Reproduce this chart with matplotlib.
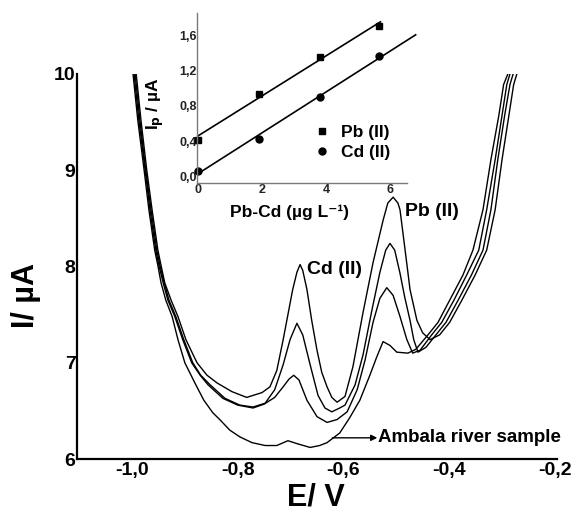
import matplotlib
matplotlib.use("Agg")
import matplotlib.pyplot as plt
import numpy as np
from matplotlib.lines import Line2D

plt.rcParams['font.family'] = ['Liberation Sans', 'DejaVu Sans']
plt.rcParams['font.weight'] = 'bold'
plt.rcParams['mathtext.default'] = 'regular'

# ---------------- main voltammograms (E / V, I / uA) ----------------
A_E = [-0.992, -0.983, -0.972, -0.962, -0.951, -0.945, -0.938, -0.926, -0.913, -0.898,
       -0.877, -0.858, -0.839, -0.811, -0.783, -0.754,
       -0.739, -0.726, -0.714, -0.705, -0.696, -0.688, -0.682, -0.677, -0.669, -0.660,
       -0.650, -0.641, -0.631, -0.622, -0.612, -0.597, -0.582, -0.563, -0.544, -0.525,
       -0.516, -0.506, -0.497, -0.493, -0.484, -0.474, -0.461, -0.450, -0.436, -0.418,
       -0.399, -0.376, -0.351, -0.329, -0.313, -0.300, -0.287, -0.278, -0.272]
A_I = [10.0, 9.52, 9.00, 8.59, 8.17, 8.01, 7.83, 7.65, 7.48, 7.24,
       7.00, 6.87, 6.79, 6.70, 6.64, 6.69,
       6.75, 6.92, 7.24, 7.50, 7.76, 7.94, 8.02, 7.96, 7.76, 7.44,
       7.13, 6.90, 6.75, 6.64, 6.59, 6.65, 6.96, 7.52, 8.04, 8.48,
       8.66, 8.72, 8.66, 8.59, 8.20, 7.76, 7.44, 7.31, 7.24, 7.29,
       7.42, 7.65, 7.91, 8.17, 8.59, 9.11, 9.57, 9.89, 10.0]

B_E = [-0.994, -0.985, -0.974, -0.964, -0.953, -0.947, -0.939, -0.930, -0.917, -0.902,
       -0.885, -0.870, -0.852, -0.824, -0.796, -0.771,
       -0.748, -0.730, -0.714, -0.701, -0.688, -0.677, -0.663, -0.648, -0.635, -0.622,
       -0.607, -0.597, -0.578, -0.563, -0.546, -0.531, -0.520, -0.512, -0.503, -0.493,
       -0.484, -0.474, -0.467, -0.459, -0.444, -0.425, -0.406, -0.383, -0.358, -0.336,
       -0.321, -0.308, -0.295, -0.285, -0.279]
B_I = [10.0, 9.52, 9.00, 8.59, 8.17, 8.01, 7.83, 7.65, 7.48, 7.24,
       7.00, 6.87, 6.77, 6.63, 6.56, 6.54,
       6.58, 6.72, 6.98, 7.24, 7.41, 7.29, 6.98, 6.66, 6.53, 6.49,
       6.53, 6.56, 6.77, 7.08, 7.55, 7.94, 8.17, 8.24, 8.17, 7.93,
       7.68, 7.44, 7.24, 7.11, 7.16, 7.29, 7.42, 7.65, 7.91, 8.17,
       8.59, 9.11, 9.57, 9.89, 10.0]

C_E = [-0.996, -0.987, -0.975, -0.966, -0.955, -0.949, -0.941, -0.932, -0.919, -0.904,
       -0.887, -0.871, -0.856, -0.828, -0.800, -0.771,
       -0.750, -0.730, -0.714, -0.703, -0.694, -0.684, -0.669, -0.650, -0.631, -0.612,
       -0.593, -0.574, -0.559, -0.544, -0.531, -0.518, -0.506, -0.493, -0.480, -0.469,
       -0.455, -0.433, -0.414, -0.391, -0.367, -0.344, -0.329, -0.313, -0.300, -0.291,
       -0.285]
C_I = [10.0, 9.52, 9.00, 8.59, 8.17, 8.01, 7.83, 7.65, 7.48, 7.24,
       7.00, 6.87, 6.77, 6.63, 6.56, 6.53,
       6.57, 6.64, 6.75, 6.83, 6.87, 6.82, 6.61, 6.44, 6.38, 6.41,
       6.49, 6.72, 7.03, 7.42, 7.67, 7.78, 7.70, 7.48, 7.24, 7.10,
       7.13, 7.29, 7.42, 7.65, 7.91, 8.17, 8.59, 9.11, 9.57, 9.89,
       10.0]

# Ambala river sample
D_E = [-0.998, -0.989, -0.977, -0.968, -0.957, -0.951, -0.945, -0.936, -0.924, -0.913,
       -0.900, -0.881, -0.864, -0.847, -0.834,
       -0.815, -0.796, -0.773, -0.748, -0.726, -0.705, -0.688, -0.663, -0.645, -0.631,
       -0.607, -0.588, -0.569, -0.550, -0.537, -0.525, -0.512, -0.499, -0.478, -0.463,
       -0.440, -0.421, -0.399, -0.374, -0.355, -0.336, -0.321, -0.306, -0.297, -0.289]
D_I = [10.0, 9.52, 9.00, 8.59, 8.17, 8.01, 7.83, 7.65, 7.48, 7.24,
       7.00, 6.79, 6.61, 6.48, 6.41,
       6.30, 6.23, 6.17, 6.14, 6.14, 6.19, 6.16, 6.12, 6.14, 6.17,
       6.27, 6.43, 6.61, 6.87, 7.06, 7.22, 7.18, 7.11, 7.10, 7.14,
       7.29, 7.42, 7.65, 7.91, 8.17, 8.59, 9.11, 9.57, 9.89, 10.0]

x_ticks = [-1.0, -0.8, -0.6, -0.4, -0.2]
x_tick_labels = ["-1,0", "-0,8", "-0,6", "-0,4", "-0,2"]
y_ticks = [6, 7, 8, 9, 10]
y_tick_labels = ["6", "7", "8", "9", "10"]

# ---------------- inset calibration ----------------
conc = [0.0, 1.9, 3.8, 5.65]
pb_ip = [0.42, 0.94, 1.35, 1.70]
cd_ip = [0.07, 0.43, 0.90, 1.36]
in_x_ticks = [0, 2, 4, 6]
in_x_labels = ["0", "2", "4", "6"]
in_y_ticks = [0.0, 0.4, 0.8, 1.2, 1.6]
in_y_labels = ["0,0", "0,4", "0,8", "1,2", "1,6"]

W, H = 573, 512
fig = plt.figure(figsize=(W / 100, H / 100), dpi=100)

def fx(px):
    return px / W

def fy(py):
    return 1 - py / H

ax = fig.add_axes([fx(77), fy(459), fx(557) - fx(77), fy(74) - fy(459)])
for E, I in [(A_E, A_I), (B_E, B_I), (C_E, C_I), (D_E, D_I)]:
    ax.plot(E, I, color='black', lw=1.0)
ax.set_xlim(-1.104, -0.196)
ax.set_ylim(6, 10)
ax.spines['top'].set_visible(False)
ax.spines['right'].set_visible(False)
for s in ['left', 'bottom']:
    ax.spines[s].set_linewidth(1.6)
ax.set_xticks(x_ticks)
ax.set_xticklabels(x_tick_labels)
ax.set_yticks(y_ticks)
ax.set_yticklabels(y_tick_labels)
ax.tick_params(axis='both', length=0, labelsize=14)
ax.tick_params(axis='x', pad=2)
ax.tick_params(axis='y', pad=1)

ax.text(-0.669, 7.97, "Cd (II)", fontsize=14, ha='left', va='center')
ax.text(-0.484, 8.57, "Pb (II)", fontsize=14, ha='left', va='center')
ax.annotate("", xy=(-0.536, 6.22), xytext=(-0.621, 6.22),
            arrowprops=dict(arrowstyle='-|>', lw=1.0, color='black', mutation_scale=9,
                            shrinkA=0, shrinkB=0))
ax.text(-0.534, 6.22, "Ambala river sample", fontsize=13.5, ha='left', va='center')

fig.text(fx(26), fy(295), "I/ µA", fontsize=22, rotation=90, ha='center', va='center')
fig.text(fx(316), fy(497), "E/ V", fontsize=22, ha='center', va='center')

# ---------------- inset ----------------
ins = fig.add_axes([fx(197), fy(183), fx(407) - fx(197), fy(13) - fy(183)])
ins.set_xlim(-0.03, 6.53)
ins.set_ylim(-0.068, 1.848)
ins.patch.set_alpha(0)
ins.spines['top'].set_visible(False)
ins.spines['right'].set_visible(False)
for s in ['left', 'bottom']:
    ins.spines[s].set_color('#7a7a7a')
    ins.spines[s].set_linewidth(1.0)

pb_fit = np.polyfit(conc, pb_ip, 1)
cd_fit = np.polyfit(conc, cd_ip, 1)
xp = np.array([0.0, 5.7])
xc = np.array([0.0, 6.8])
ins.plot(xp, np.polyval(pb_fit, xp), color='black', lw=1.2, clip_on=False)
ins.plot(xc, np.polyval(cd_fit, xc), color='black', lw=1.2, clip_on=False)
ins.plot(conc, pb_ip, 's', color='black', ms=5, clip_on=False)
ins.plot(conc, cd_ip, 'o', color='black', ms=5, clip_on=False)

ins.set_xticks(in_x_ticks)
ins.set_xticklabels(in_x_labels)
ins.set_yticks(in_y_ticks)
ins.set_yticklabels(in_y_labels)
ins.tick_params(axis='both', length=0, labelsize=9, labelcolor='#222222')
ins.tick_params(axis='x', pad=1)
ins.tick_params(axis='y', pad=0)

fig.text(fx(289), fy(212), "Pb-Cd (µg L⁻¹)", fontsize=12.5, ha='center', va='center',
         family=['Liberation Sans', 'DejaVu Sans'])
fig.text(fx(155), fy(104), r"I$_\mathbf{p}$ / µA", fontsize=12.5, rotation=90,
         ha='center', va='center')

handles = [Line2D([], [], marker='s', ls='none', color='black', ms=5),
           Line2D([], [], marker='o', ls='none', color='black', ms=5)]
ins.legend(handles, ["Pb (II)", "Cd (II)"], loc='center left',
           bbox_to_anchor=(0.555, 0.238), frameon=False, fontsize=12.5,
           handlelength=1.0, handletextpad=0.6, labelspacing=0.3,
           borderpad=0, borderaxespad=0)

fig.savefig("out.png", dpi=100)
